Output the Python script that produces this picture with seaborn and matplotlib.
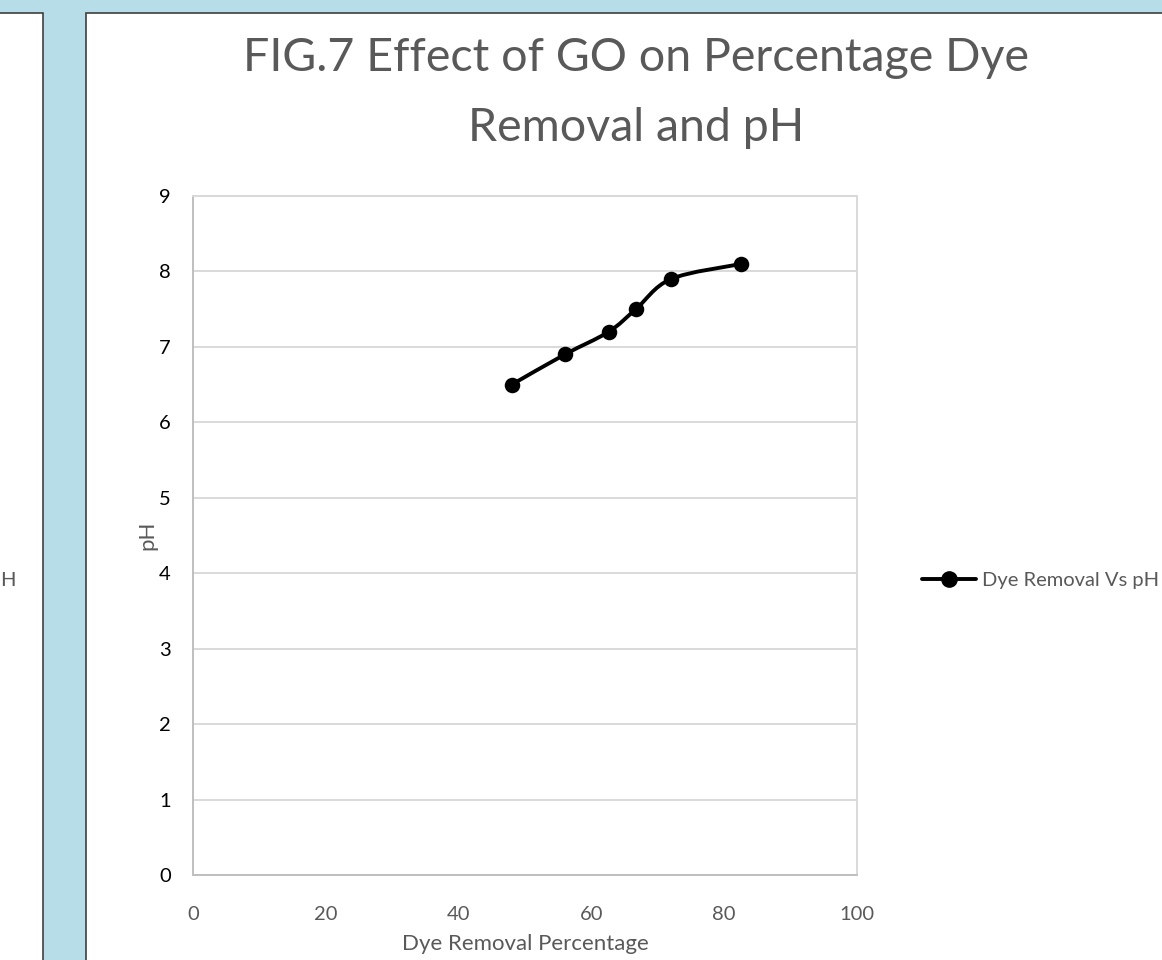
import numpy as np
import pandas as pd
import matplotlib
matplotlib.use("Agg")
import matplotlib.pyplot as plt
import seaborn as sns
from matplotlib.patches import Rectangle, PathPatch
from matplotlib.path import Path
from matplotlib.lines import Line2D

# ---- data ----
dye_removal = [48.0, 56.0, 62.6, 66.7, 72.0, 82.6]
ph_values = [6.5, 6.9, 7.2, 7.5, 7.9, 8.1]
series_name = "Dye Removal Vs pH"
title = "FIG.7 Effect of GO on Percentage Dye\nRemoval and pH"
x_label = "Dye Removal Percentage"
y_label = "pH"
x_ticks = [0, 20, 40, 60, 80, 100]
y_ticks = [0, 1, 2, 3, 4, 5, 6, 7, 8, 9]
left_panel_text = "H"

sns.set_style("white")
plt.rcParams['font.family'] = ['Lato', 'DejaVu Sans']

W, H = 1162, 960
fig = plt.figure(figsize=(W / 100, H / 100), dpi=100)
fig.patch.set_facecolor("#B7DDE8")

# white panels (behind axes)
fig.patches.append(Rectangle((-0.01, -0.01), 43 / W + 0.01, (H - 13) / H + 0.01,
                             transform=fig.transFigure, facecolor="white",
                             edgecolor="#3F3F3F", lw=1.2, zorder=-2))
fig.patches.append(Rectangle((86 / W, -0.01), 1.02 - 86 / W, (H - 13) / H + 0.01,
                             transform=fig.transFigure, facecolor="white",
                             edgecolor="#3F3F3F", lw=1.2, zorder=-2))

# visible remainder of the neighbouring chart's legend
fig.text(16 / W, 1 - 580 / H, left_panel_text, ha="right", va="center",
         color="#595959", fontsize=14.5)

ax = fig.add_axes([193 / W, (H - 875) / H, (857 - 193) / W, (875 - 196) / H])
ax.set_facecolor("white")

df = pd.DataFrame({"x": dye_removal, "y": ph_values})

# smooth curve (Excel-like) via cubic Bezier through the data points
xs = np.array(dye_removal, dtype=float)
ys = np.array(ph_values, dtype=float)
P = np.column_stack([xs, ys])
n = len(P)
verts = [tuple(P[0])]
codes = [Path.MOVETO]
for i in range(n - 1):
    p0 = P[i - 1] if i > 0 else P[i]
    p1 = P[i]
    p2 = P[i + 1]
    p3 = P[i + 2] if i + 2 < n else P[i + 1]
    c1 = p1 + (p2 - p0) / 6.0
    c2 = p2 - (p3 - p1) / 6.0
    verts += [tuple(c1), tuple(c2), tuple(p2)]
    codes += [Path.CURVE4, Path.CURVE4, Path.CURVE4]
ax.add_patch(PathPatch(Path(verts, codes), facecolor="none", edgecolor="black",
                       lw=2.8, zorder=3, capstyle="round", joinstyle="round"))

sns.scatterplot(data=df, x="x", y="y", ax=ax, color="black", s=125,
                edgecolor="black", linewidth=0, zorder=4, legend=False)

ax.set_xlim(0, 100)
ax.set_ylim(0, 9)
ax.set_xticks(x_ticks)
ax.set_yticks(y_ticks)
ax.set_xticklabels([str(t) for t in x_ticks], color="#595959", fontsize=14.5)
ax.set_yticklabels([str(t) for t in y_ticks], color="black", fontsize=14.5)
ax.tick_params(axis="x", length=0, pad=22)
ax.tick_params(axis="y", length=0, pad=16)
ax.yaxis.grid(True, color="#D9D9D9", lw=1.4)
ax.xaxis.grid(False)
ax.set_axisbelow(True)
for side in ["left", "bottom"]:
    ax.spines[side].set_color("#BFBFBF")
    ax.spines[side].set_linewidth(1.4)
for side in ["right", "top"]:
    ax.spines[side].set_color("#D9D9D9")
    ax.spines[side].set_linewidth(1.4)

ax.set_xlabel(x_label, color="#595959", fontsize=16, labelpad=8)
ax.set_ylabel(y_label, color="#595959", fontsize=16, labelpad=1)

fig.text(636 / W, 1 - 93 / H, title, ha="center", va="center", color="#595959",
         fontsize=33.5, linespacing=1.8)

handle = Line2D([], [], color="black", lw=2.8, marker="o", markersize=11)
fig.legend([handle], [series_name], loc="center left",
           bbox_to_anchor=(912 / W, 1 - 580 / H), frameon=False,
           fontsize=14.5, handlelength=2.7, handletextpad=0.3, borderpad=0,
           labelcolor="#595959")

fig.savefig("out.png", dpi=100, facecolor=fig.get_facecolor())
